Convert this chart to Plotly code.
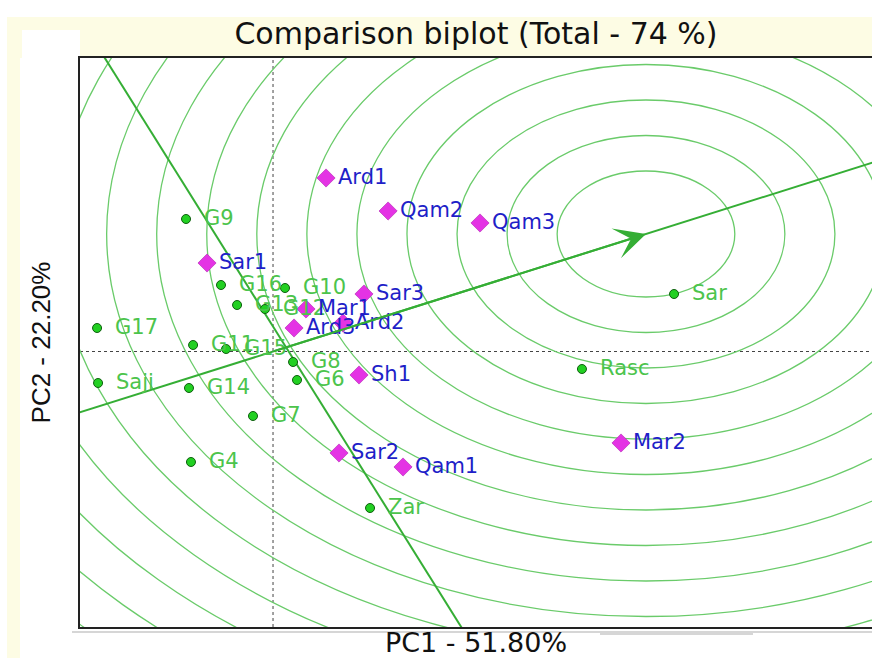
import plotly.graph_objects as go

# ---------------- data ----------------
geno_names = ["G9", "G16", "G10", "G13", "G12", "G17", "G11", "G15", "G8", "G6",
              "Saji", "G14", "G7", "G4", "Zar", "Sar", "Rasc"]
geno_pc1 = [-0.617, -0.369, 0.085, -0.255, -0.057, -1.248, -0.567, -0.333, 0.142, 0.170,
            -1.241, -0.596, -0.142, -0.582, 0.688, 2.844, 2.191]
geno_pc2 = [1.325, 0.665, 0.635, 0.465, 0.425, 0.235, 0.065, 0.025, -0.105, -0.285,
            -0.315, -0.365, -0.645, -1.105, -1.565, 0.575, -0.175]

env_names = ["Ard1", "Qam2", "Qam3", "Sar1", "Sar3", "Mar1", "Ard3", "Ard2",
             "Sh1", "Sar2", "Qam1", "Mar2"]
env_pc1 = [0.376, 0.816, 1.468, -0.468, 0.645, 0.234, 0.149, 0.496,
           0.610, 0.468, 0.922, 2.468]
env_pc2 = [1.735, 1.405, 1.285, 0.885, 0.575, 0.425, 0.235, 0.285,
           -0.235, -1.015, -1.155, -0.915]

# ideal genotype (centre of the concentric circles, arrow head)
ideal_pc1 = 2.645
ideal_pc2 = 1.175
# radii of the concentric circles
ring_radii = [0.63, 0.985, 1.34, 1.695, 2.05, 2.405, 2.76, 3.115, 3.47,
              3.825, 4.18, 4.535, 4.89, 5.245, 5.6]
# fraction along the average-environment axis where the perpendicular crosses it
perp_at = 0.035

x_range = [-1.369, 4.248]
y_range = [-2.755, 2.935]

title_text = "Comparison biplot (Total - 74 %)"
x_title = "PC1 - 51.80%"
y_title = "PC2 - 22.20%"

# ---------------- styles ----------------
RING = "#6ACB6A"
AXLINE = "#35AE35"
DOT = "#22D022"
DOT_EDGE = "#0E5E0E"
GTEXT = "#4CC44C"
ETEXT = "#1F1FC8"
EMARK = "#E433E4"
YELLOW = "#FDFCE4"
FONT = "DejaVu Sans"

fig = go.Figure()

# average environment axis (through origin and ideal point)
aea_t = [-4, 4]
fig.add_trace(go.Scatter(
    x=[t * ideal_pc1 for t in aea_t], y=[t * ideal_pc2 for t in aea_t],
    mode="lines", line=dict(color=AXLINE, width=2), hoverinfo="skip", showlegend=False))

# perpendicular line
bx, by = perp_at * ideal_pc1, perp_at * ideal_pc2
pu = [-4, 4]
fig.add_trace(go.Scatter(
    x=[bx - u * ideal_pc2 for u in pu], y=[by + u * ideal_pc1 for u in pu],
    mode="lines", line=dict(color=AXLINE, width=2), hoverinfo="skip", showlegend=False))

# genotypes
fig.add_trace(go.Scatter(
    x=geno_pc1, y=geno_pc2, mode="markers", name="Genotypes",
    marker=dict(symbol="circle", size=9, color=DOT, line=dict(color=DOT_EDGE, width=1)),
    showlegend=False, cliponaxis=False))

# environments
fig.add_trace(go.Scatter(
    x=env_pc1, y=env_pc2, mode="markers", name="Environments",
    marker=dict(symbol="diamond", size=14, color=EMARK, line=dict(color="#B020B0", width=0.6)),
    showlegend=False, cliponaxis=False))

shapes = []
# concentric circles
for r in ring_radii:
    shapes.append(dict(type="circle", xref="x", yref="y",
                       x0=ideal_pc1 - r, x1=ideal_pc1 + r,
                       y0=ideal_pc2 - r, y1=ideal_pc2 + r,
                       line=dict(color=RING, width=1.3), layer="below"))
# dotted zero lines
shapes.append(dict(type="line", xref="x", yref="paper", x0=0, x1=0, y0=0, y1=1,
                   line=dict(color="#444444", width=1, dash="dot"), layer="below"))
shapes.append(dict(type="line", xref="paper", yref="y", x0=0, x1=1, y0=0, y1=0,
                   line=dict(color="#444444", width=1, dash="dot"), layer="below"))

# page background decoration (paper coordinates)
W, H = 872, 658
L, R, T, B = 80, 0, 58, 31
pw, ph = W - L - R, H - T - B


def px(xp):
    return (xp - L) / pw


def py(yp):
    return (H - B - yp) / ph


shapes.append(dict(type="rect", xref="paper", yref="paper", x0=px(7), x1=px(20), y0=py(658), y1=py(17),
                   fillcolor=YELLOW, line=dict(width=0), layer="below"))
shapes.append(dict(type="rect", xref="paper", yref="paper", x0=px(7), x1=px(872), y0=py(58), y1=py(17),
                   fillcolor=YELLOW, line=dict(width=0), layer="below"))
shapes.append(dict(type="rect", xref="paper", yref="paper", x0=px(22), x1=px(80), y0=py(58), y1=py(30),
                   fillcolor="white", line=dict(width=0), layer="below"))
shapes.append(dict(type="line", xref="paper", yref="paper", x0=px(72), x1=px(872), y0=py(632), y1=py(632),
                   line=dict(color="#D6D6D6", width=2), layer="below"))
shapes.append(dict(type="line", xref="paper", yref="paper", x0=px(600), x1=px(753), y0=py(634), y1=py(634),
                   line=dict(color="#C8C8C8", width=1.5), layer="below"))

annotations = []
for n, x, y in zip(geno_names, geno_pc1, geno_pc2):
    annotations.append(dict(x=x, y=y, xref="x", yref="y", text=n, showarrow=False,
                            xanchor="left", yanchor="middle", xshift=16, yshift=1,
                            font=dict(family=FONT, size=21, color=GTEXT)))
for n, x, y in zip(env_names, env_pc1, env_pc2):
    annotations.append(dict(x=x, y=y, xref="x", yref="y", text=n, showarrow=False,
                            xanchor="left", yanchor="middle", xshift=10, yshift=1,
                            font=dict(family=FONT, size=21, color=ETEXT)))
# arrow head on the average environment axis at the ideal point
annotations.append(dict(x=ideal_pc1, y=ideal_pc2, ax=0, ay=0, xref="x", yref="y",
                        axref="x", ayref="y", text="", showarrow=True,
                        arrowhead=3, arrowsize=2.6, arrowwidth=2, arrowcolor=AXLINE))

fig.update_layout(
    width=W, height=H,
    margin=dict(l=L, r=R, t=T, b=B, pad=0),
    paper_bgcolor="white", plot_bgcolor="white",
    title=dict(text=title_text, x=0.5, xref="paper", xanchor="center",
               y=1 - 33 / H, yref="container", yanchor="middle",
               font=dict(family=FONT, size=30, color="#111111")),
    xaxis=dict(range=x_range, showgrid=False, zeroline=False, showticklabels=False, ticks="",
               showline=True, mirror=True, linecolor="#222222", linewidth=2,
               title=dict(text=x_title, standoff=5, font=dict(family=FONT, size=27, color="#111111"))),
    yaxis=dict(range=y_range, showgrid=False, zeroline=False, showticklabels=False, ticks="",
               showline=True, mirror=False, linecolor="#222222", linewidth=2,
               title=dict(text=y_title, standoff=20, font=dict(family="Liberation Sans", size=26, color="#111111"))),
    shapes=shapes, annotations=annotations, showlegend=False,
)

fig.write_html("out.html", config={"displayModeBar": False},
               post_script="document.body.style.margin='0';document.body.style.overflow='hidden';")
